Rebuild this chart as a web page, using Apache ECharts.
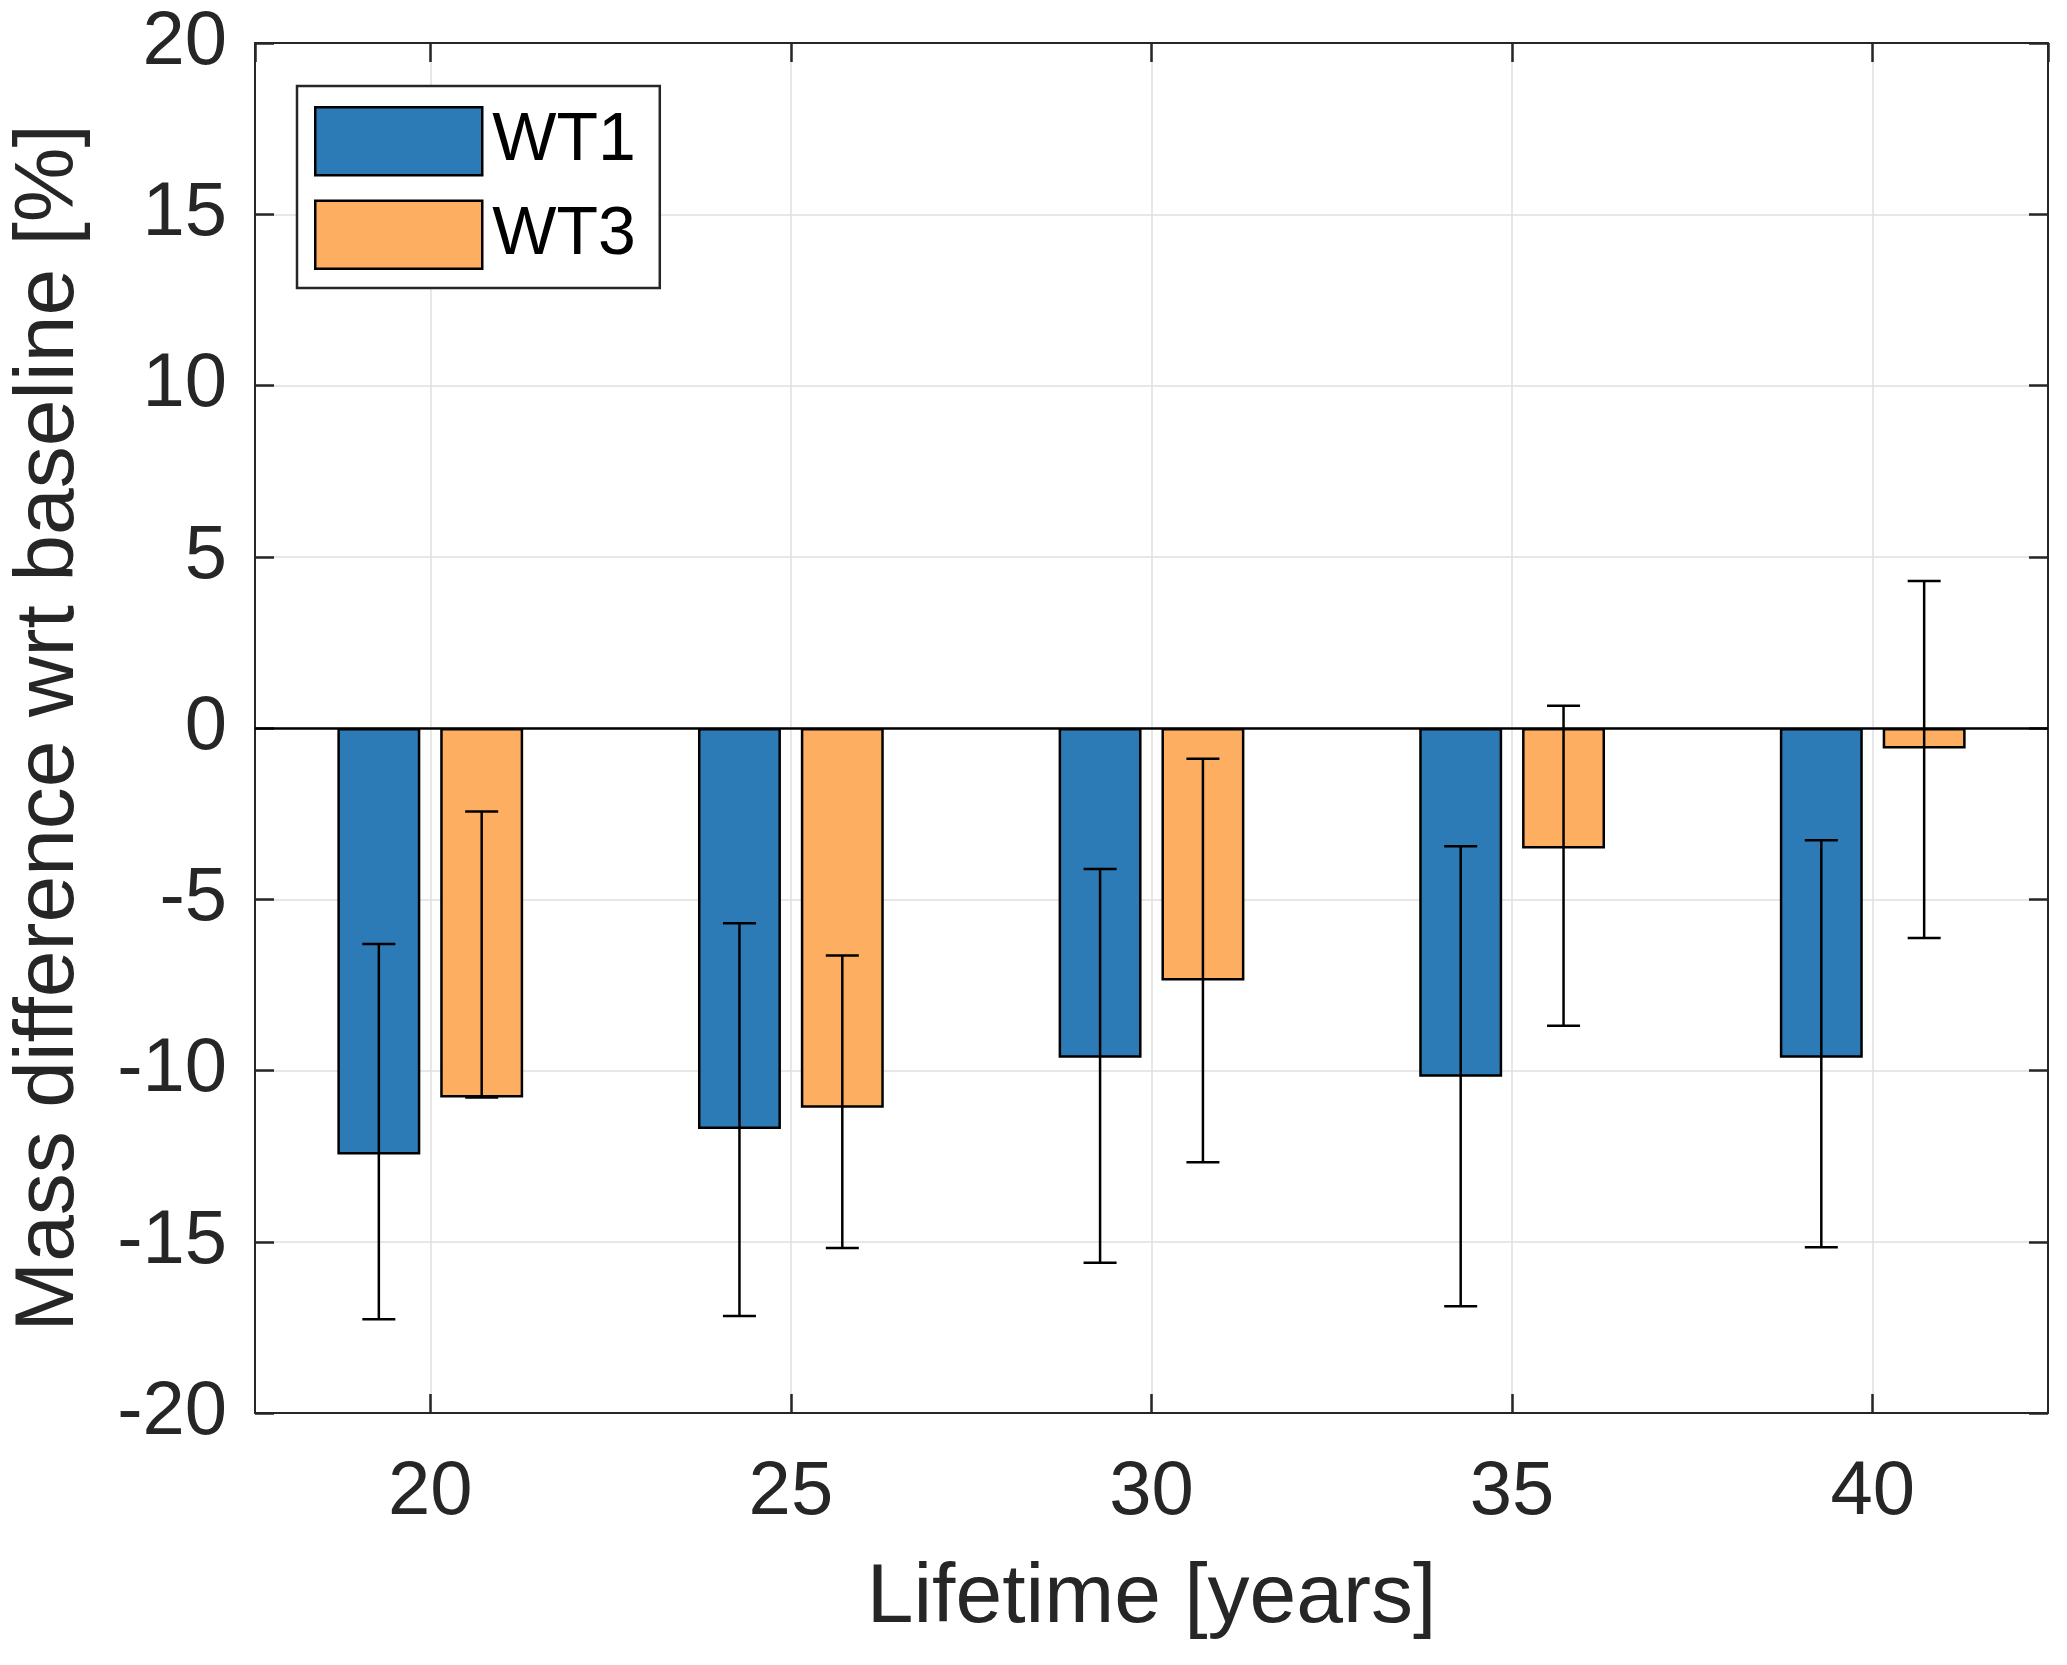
<!DOCTYPE html>
<html>
<head>
<meta charset="utf-8">
<script src="https://cdn.jsdelivr.net/npm/echarts@6/dist/echarts.min.js"></script>
<style>
  html, body { margin: 0; padding: 0; background: #fff; }
  #chart { width: 2067px; height: 1665px; }
</style>
</head>
<body>
<div id="chart"></div>
<script>
// ---- data ----
const lifetimes = [20, 25, 30, 35, 40];
const seriesNames = ['WT1', 'WT3'];
const wt1Values = [-12.45, -11.71, -9.63, -10.18, -9.63];
const wt3Values = [-10.79, -11.09, -7.37, -3.52, -0.60];
const wt1Lower = [-17.26, -17.17, -15.61, -16.88, -15.16];
const wt1Upper = [-6.31, -5.70, -4.12, -3.45, -3.28];
const wt3Lower = [-10.79, -15.18, -12.68, -8.69, -6.13];
const wt3Upper = [-2.44, -6.64, -0.90, 0.65, 4.29];
const yTicks = [-20, -15, -10, -5, 0, 5, 10, 15, 20];

// ---- style ----
const FONT = "'Liberation Sans', Arial, Helvetica, sans-serif";
const AX = '#262626';
const GRID = '#dfdfdf';
const BLUE = '#2c7bb6';
const ORANGE = '#fdae61';
const BAR_W = 0.23;   // fraction of group spacing
const BAR_GAP = 0.24; // fraction of bar width
const CAP_HALF = 16.5;

const chart = echarts.init(document.getElementById('chart'), null, { renderer: 'canvas' });

function pairs(vals) { return lifetimes.map((x, i) => [x, vals[i]]); }
function errData(lo, hi) { return lifetimes.map((x, i) => [x, lo[i], hi[i]]); }

function makeErrRender(sign) {
  return function (params, api) {
    const x = api.value(0), lo = api.value(1), hi = api.value(2);
    const band = api.size([5, 0])[0];
    const off = sign * band * BAR_W * (1 + BAR_GAP) / 2;
    const cx = api.coord([x, 0])[0] + off;
    const yLo = api.coord([x, lo])[1];
    const yHi = api.coord([x, hi])[1];
    const st = { stroke: '#000', lineWidth: 2.5 };
    return {
      type: 'group',
      children: [
        { type: 'line', shape: { x1: cx, y1: yLo, x2: cx, y2: yHi }, style: st },
        { type: 'line', shape: { x1: cx - CAP_HALF, y1: yLo, x2: cx + CAP_HALF, y2: yLo }, style: st },
        { type: 'line', shape: { x1: cx - CAP_HALF, y1: yHi, x2: cx + CAP_HALF, y2: yHi }, style: st }
      ]
    };
  };
}

const xMin = 17.57, xMax = 42.43;

const option = {
  backgroundColor: '#fff',
  animation: false,
  textStyle: { fontFamily: FONT },
  grid: { left: 253, right: 19, top: 43, bottom: 252, containLabel: false },
  legend: {
    data: seriesNames,
    orient: 'vertical',
    left: 297, top: 86,
    icon: 'rect',
    itemWidth: 167, itemHeight: 68, itemGap: 23,
    padding: [20, 24, 18, 17],
    borderColor: AX, borderWidth: 2.5,
    backgroundColor: '#fff',
    itemStyle: { borderColor: '#000', borderWidth: 2.5 },
    textStyle: { fontSize: 68, color: '#000', fontFamily: FONT, padding: [0, 0, 0, 5] },
    selectedMode: false,
    z: 10
  },
  xAxis: [
    {
      type: 'value', min: xMin, max: xMax, splitNumber: 5, position: 'bottom',
      name: 'Lifetime [years]', nameLocation: 'middle', nameGap: 144,
      nameTextStyle: { fontSize: 84, lineHeight: 84, color: AX, fontFamily: FONT },
      axisLine: { show: true, onZero: false, lineStyle: { color: AX, width: 2 } },
      axisTick: { show: true, inside: true, length: 19, lineStyle: { color: AX, width: 2.5 } },
      axisLabel: { fontSize: 76, lineHeight: 76, color: AX, margin: 42, fontFamily: FONT,
                   showMinLabel: false, showMaxLabel: false,
                   formatter: v => (lifetimes.indexOf(v) >= 0 ? String(v) : '') },
      splitLine: { show: true, lineStyle: { color: GRID, width: 1.5 } }
    },
    {
      type: 'value', min: xMin, max: xMax, splitNumber: 5, position: 'top',
      axisLine: { show: true, onZero: false, lineStyle: { color: AX, width: 2 } },
      axisTick: { show: true, inside: true, length: 19, lineStyle: { color: AX, width: 2.5 } },
      axisLabel: { show: false },
      splitLine: { show: false }
    }
  ],
  yAxis: [
    {
      type: 'value', min: yTicks[0], max: yTicks[yTicks.length - 1], interval: 5, position: 'left',
      name: 'Mass difference wrt baseline [%]', nameLocation: 'middle', nameGap: 163,
      nameTextStyle: { fontSize: 84, lineHeight: 84, color: AX, fontFamily: FONT },
      axisLine: { show: true, onZero: false, lineStyle: { color: AX, width: 2 } },
      axisTick: { show: true, inside: true, length: 19, lineStyle: { color: AX, width: 2.5 } },
      axisLabel: { fontSize: 76, color: AX, margin: 28, fontFamily: FONT },
      splitLine: { show: true, lineStyle: { color: GRID, width: 1.5 } }
    },
    {
      type: 'value', min: yTicks[0], max: yTicks[yTicks.length - 1], interval: 5, position: 'right',
      axisLine: { show: true, onZero: false, lineStyle: { color: AX, width: 2 } },
      axisTick: { show: true, inside: true, length: 19, lineStyle: { color: AX, width: 2.5 } },
      axisLabel: { show: false },
      splitLine: { show: false }
    }
  ],
  series: [
    {
      name: 'WT1', type: 'bar', xAxisIndex: 0, yAxisIndex: 0,
      data: pairs(wt1Values),
      barWidth: (BAR_W * 100) + '%', barGap: (BAR_GAP * 100) + '%',
      itemStyle: { color: BLUE, borderColor: '#000', borderWidth: 2.5 },
      markLine: {
        silent: true, symbol: ['none', 'none'], label: { show: false },
        lineStyle: { color: '#000', width: 2.5, type: 'solid' },
        data: [{ yAxis: 0 }]
      },
      z: 3
    },
    {
      name: 'WT3', type: 'bar', xAxisIndex: 0, yAxisIndex: 0,
      data: pairs(wt3Values),
      barWidth: (BAR_W * 100) + '%', barGap: (BAR_GAP * 100) + '%',
      itemStyle: { color: ORANGE, borderColor: '#000', borderWidth: 2.5 },
      z: 3
    },
    {
      name: 'WT1 error', type: 'custom', xAxisIndex: 0, yAxisIndex: 0,
      data: errData(wt1Lower, wt1Upper),
      encode: { x: 0, y: [1, 2] },
      renderItem: makeErrRender(-1), z: 5, silent: true
    },
    {
      name: 'WT3 error', type: 'custom', xAxisIndex: 0, yAxisIndex: 0,
      data: errData(wt3Lower, wt3Upper),
      encode: { x: 0, y: [1, 2] },
      renderItem: makeErrRender(1), z: 5, silent: true
    }
  ]
};

chart.setOption(option);
</script>
</body>
</html>
